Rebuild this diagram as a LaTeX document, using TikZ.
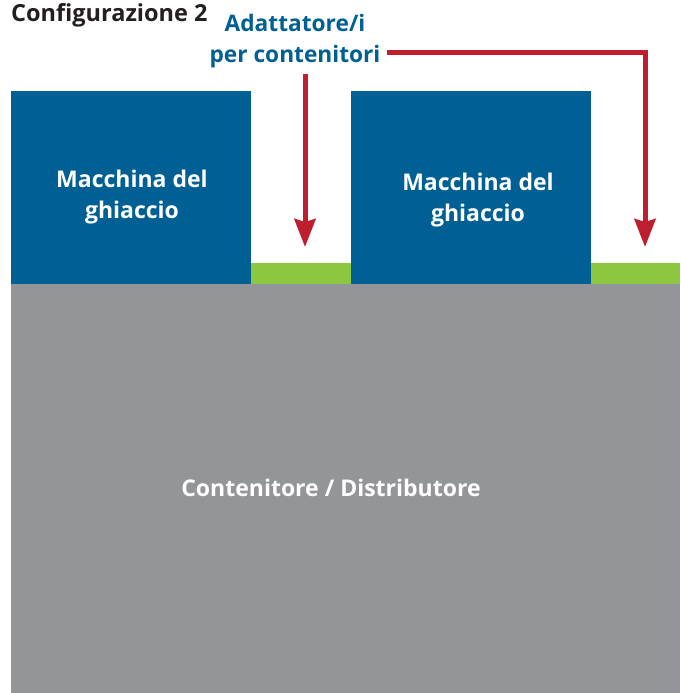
\documentclass[tikz,border=0pt]{standalone}
\usepackage{fontspec}
\setmainfont{Open Sans}
\usetikzlibrary{arrows.meta}
\definecolor{boxblue}{RGB}{0,96,148}
\definecolor{adgreen}{RGB}{141,198,63}
\definecolor{bingray}{RGB}{147,149,152}
\definecolor{arrred}{RGB}{190,30,45}
\definecolor{titledark}{RGB}{35,31,32}
\tikzset{
  machine/.style={fill=boxblue, draw=none, anchor=north west, minimum width=240pt, minimum height=193pt, inner sep=0pt},
  adapter/.style={fill=adgreen, draw=none, anchor=north west, minimum height=21pt, inner sep=0pt},
  bin/.style={fill=bingray, draw=none, anchor=north west, minimum width=669pt, minimum height=409pt, inner sep=0pt},
  whitetxt/.style={text=white, font=\fontsize{23}{31}\selectfont\bfseries, align=center, inner sep=0pt},
  bluetxt/.style={anchor=base, text=boxblue, font=\fontsize{22.7}{30}\selectfont\bfseries, inner sep=0pt},
  redarrow/.style={draw=arrred, line width=5pt, -{Stealth[length=28pt,width=21pt,inset=3pt]}},
}
\begin{document}
\begin{tikzpicture}[x=1pt,y=-1pt]
\useasboundingbox (0,0) rectangle (680,693);
\fill[white] (0,0) rectangle (680,693);
% bin
\node[bin] (bin) at (11,284) {};
\node[whitetxt] (bintxt) at (331,488) {Contenitore / Distributore};
% machines
\node[machine] (m1) at (11,91) {};
\node[machine] (m2) at (351,91) {};
\node[whitetxt] (m1txt) at (132,197) {Macchina del\\ghiaccio};
\node[whitetxt] (m2txt) at (478,200) {Macchina del\\ghiaccio};
% adapters
\node[adapter, minimum width=100pt] (ad1) at (251,263) {};
\node[adapter, minimum width=89pt] (ad2) at (591,263) {};
% labels
\node[anchor=base west, text=titledark, font=\fontsize{23.5}{25}\selectfont\bfseries, inner sep=0pt] (title) at (11,22) {Configurazione 2};
\node[bluetxt] (lab1) at (295,32) {Adattatore/i};
\node[bluetxt] (lab2) at (295,63) {per contenitori};
% arrows
\coordinate (a1start) at (305,74);
\coordinate (a1end) at (305,247);
\coordinate (a2start) at (387,53);
\coordinate (a2corner) at (645,53);
\coordinate (a2end) at (645,247);
\draw[redarrow] (a1start) -- (a1end);
\draw[redarrow] (a2start) -- (a2corner) -- (a2end);
\end{tikzpicture}
\end{document}
